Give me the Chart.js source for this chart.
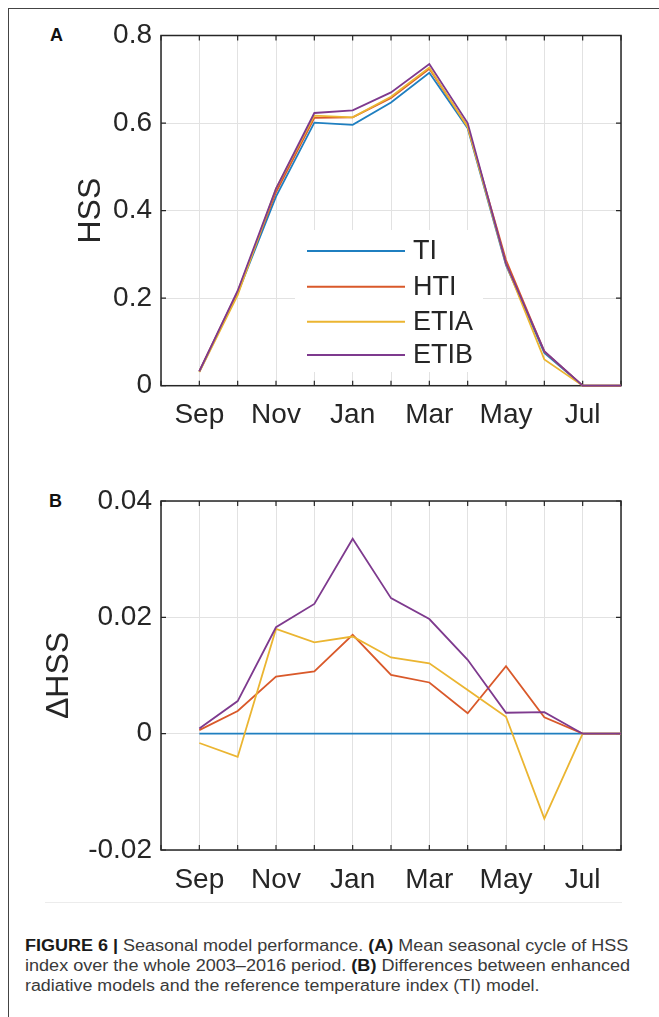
<!DOCTYPE html>
<html>
<head>
<meta charset="utf-8">
<script src="https://cdn.jsdelivr.net/npm/chart.js@4.4.0/dist/chart.umd.min.js"></script>
<style>
  body{margin:0;background:#fff;width:659px;height:1017px;position:relative;overflow:hidden;font-family:"Liberation Sans",Arial,sans-serif}
  .frame-l{position:absolute;left:8px;top:8px;width:1px;height:1009px;background:#444}
  .frame-t{position:absolute;left:8px;top:8px;width:651px;height:1px;background:#444}
  .fig-edge{position:absolute;left:45px;top:902px;width:577px;height:1px;background:#ececec}
  canvas{position:absolute;left:0}
  .plab{position:absolute;font-weight:bold;font-size:18px;color:#111;line-height:20px}
  .cap{position:absolute;left:25px;font-size:16px;line-height:20px;color:#3a3a3a;white-space:nowrap;transform-origin:0 0}
  .cap b{color:#1a1a1a}
</style>
</head>
<body>
<div class="frame-l"></div><div class="frame-t"></div><div class="fig-edge"></div>
<div class="plab" style="left:50px;top:25px">A</div>
<div class="plab" style="left:49px;top:491px">B</div>
<canvas id="chA" width="659" height="450" style="top:0"></canvas>
<canvas id="chB" width="659" height="450" style="top:460px"></canvas>
<div class="cap" data-w="603" style="top:936px"><b>FIGURE 6 |</b> Seasonal model performance. <b>(A)</b> Mean seasonal cycle of HSS</div>
<div class="cap" data-w="605" style="top:956px">index over the whole 2003–2016 period. <b>(B)</b> Differences between enhanced</div>
<div class="cap" data-w="515" style="top:976px">radiative models and the reference temperature index (TI) model.</div>
<script>
// ===================== DATOS =====================
const months=['Sep','Oct','Nov','Dec','Jan','Feb','Mar','Apr','May','Jun','Jul','Aug'];
const seriesNames=['TI','HTI','ETIA','ETIB'];
const seriesColors=['#1f7fc0','#d9592a','#ebb531','#7e3a8e'];

// (A) HSS
const hssTI  =[0.032,0.211,0.432,0.601,0.596,0.647,0.715,0.588,0.275,0.075,0,0];
const hssHTI =[0.033,0.215,0.442,0.612,0.613,0.657,0.724,0.592,0.287,0.078,0,0];
const hssETIA=[0.031,0.207,0.450,0.617,0.613,0.660,0.727,0.591,0.278,0.060,0,0];
const hssETIB=[0.033,0.217,0.450,0.623,0.629,0.670,0.735,0.600,0.279,0.079,0,0];
const ticksA=[0,0.2,0.4,0.6,0.8];

// (B) ΔHSS
const dTI  =[0,0,0,0,0,0,0,0,0,0,0,0];
const dHTI =[0.0006,0.0039,0.0098,0.0107,0.0170,0.0101,0.0088,0.0035,0.0116,0.0028,0,0];
const dETIA=[-0.0016,-0.0040,0.0180,0.0157,0.0167,0.0131,0.0121,0.0075,0.0029,-0.0146,0,0];
const dETIB=[0.0009,0.0056,0.0183,0.0223,0.0335,0.0233,0.0197,0.0127,0.0036,0.0037,0,0];
const ticksB=[-0.02,0,0.02,0.04];

const FONT='"Liberation Sans", Arial, sans-serif';
const INK='#262626';

// ── ejes estilo MATLAB: caja, ticks hacia dentro, leyenda ──
const matlabAxes={
  id:'matlabAxes',
  beforeDatasetsDraw(chart){
    const {ctx,chartArea:a,scales:{x,y}}=chart;
    ctx.save();
    ctx.strokeStyle=INK;ctx.lineWidth=1.5;
    ctx.strokeRect(a.left,a.top,a.right-a.left,a.bottom-a.top);
    ctx.lineWidth=1.2;ctx.beginPath();
    x.ticks.forEach(t=>{const p=x.getPixelForValue(t.value);
      ctx.moveTo(p,a.bottom);ctx.lineTo(p,a.bottom-5);ctx.moveTo(p,a.top);ctx.lineTo(p,a.top+5);});
    y.ticks.forEach(t=>{const p=y.getPixelForValue(t.value);
      ctx.moveTo(a.left,p);ctx.lineTo(a.left+5,p);ctx.moveTo(a.right,p);ctx.lineTo(a.right-5,p);});
    ctx.stroke();ctx.restore();
  },
  afterDatasetsDraw(chart,args,opts){
    const lg=opts.legend; if(!lg) return;
    const {ctx}=chart;
    ctx.save();
    ctx.fillStyle='#fff';ctx.fillRect(lg.box[0],lg.box[1],lg.box[2]-lg.box[0],lg.box[3]-lg.box[1]);
    ctx.font='27px '+FONT;ctx.textBaseline='middle';ctx.fillStyle=INK;
    chart.data.datasets.forEach((d,i)=>{
      const yy=lg.rows[i];
      ctx.strokeStyle=d.borderColor;ctx.lineWidth=2;
      ctx.beginPath();ctx.moveTo(lg.x0,yy);ctx.lineTo(lg.x1,yy);ctx.stroke();
      ctx.fillText(d.label,lg.tx,yy+1);
    });
    ctx.restore();
  }
};

function fmt(v){return Math.abs(v)<1e-9?'0':String(+v.toFixed(2));}

function makeChart(id,series,yMin,yMax,yTicks,yTitle,titlePad,pad,legend){
  return new Chart(document.getElementById(id),{
    type:'line',
    data:{datasets:series.map((vals,i)=>({
      label:seriesNames[i],
      data:vals.map((v,k)=>({x:k,y:v})),
      borderColor:seriesColors[i],backgroundColor:seriesColors[i],
      borderWidth:1.8,pointRadius:0,tension:0,clip:4,order:series.length-i
    }))},
    options:{
      responsive:false,animation:false,devicePixelRatio:1,
      layout:{padding:pad},
      plugins:{legend:{display:false},tooltip:{enabled:false},matlabAxes:{legend}},
      scales:{
        x:{type:'linear',min:-1,max:11,
          afterFit:s=>{s.height=50;},
          grid:{color:'#e2e2e2',lineWidth:1,drawTicks:false},border:{display:false},
          ticks:{stepSize:1,autoSkip:false,maxRotation:0,padding:13,color:INK,font:{family:FONT,size:28},
            callback:v=>(v>=0&&v<=10&&v%2===0)?months[v]:''}},
        y:{min:yMin,max:yMax,
          afterFit:s=>{s.width=161-pad.left;},
          afterBuildTicks:s=>{s.ticks=yTicks.map(v=>({value:v}));},
          grid:{color:'#e2e2e2',lineWidth:1,drawTicks:false},border:{display:false},
          title:{display:true,text:yTitle,color:INK,font:{family:FONT,size:32},padding:{top:titlePad,bottom:0}},
          ticks:{padding:9,color:INK,font:{family:FONT,size:28},callback:v=>fmt(v)}}
      }
    },
    plugins:[matlabAxes]
  });
}

makeChart('chA',[hssTI,hssHTI,hssETIA,hssETIB],0,0.8,ticksA,'HSS',72,
  {left:0,right:38,top:35.5,bottom:14.3},
  {box:[295,230,483,372],x0:307,x1:405,tx:413,rows:[251,286.7,321.7,355]});
makeChart('chB',[dTI,dHTI,dETIA,dETIB],-0.02,0.04,ticksB,'ΔHSS',39.8,
  {left:0,right:38,top:41,bottom:10},null);

// ── pie de figura: ajustar ancho de cada línea ──
document.querySelectorAll('.cap').forEach(el=>{
  const w=el.scrollWidth, target=+el.dataset.w;
  el.style.transform='scaleX('+(target/w)+')';
});
</script>
</body>
</html>
